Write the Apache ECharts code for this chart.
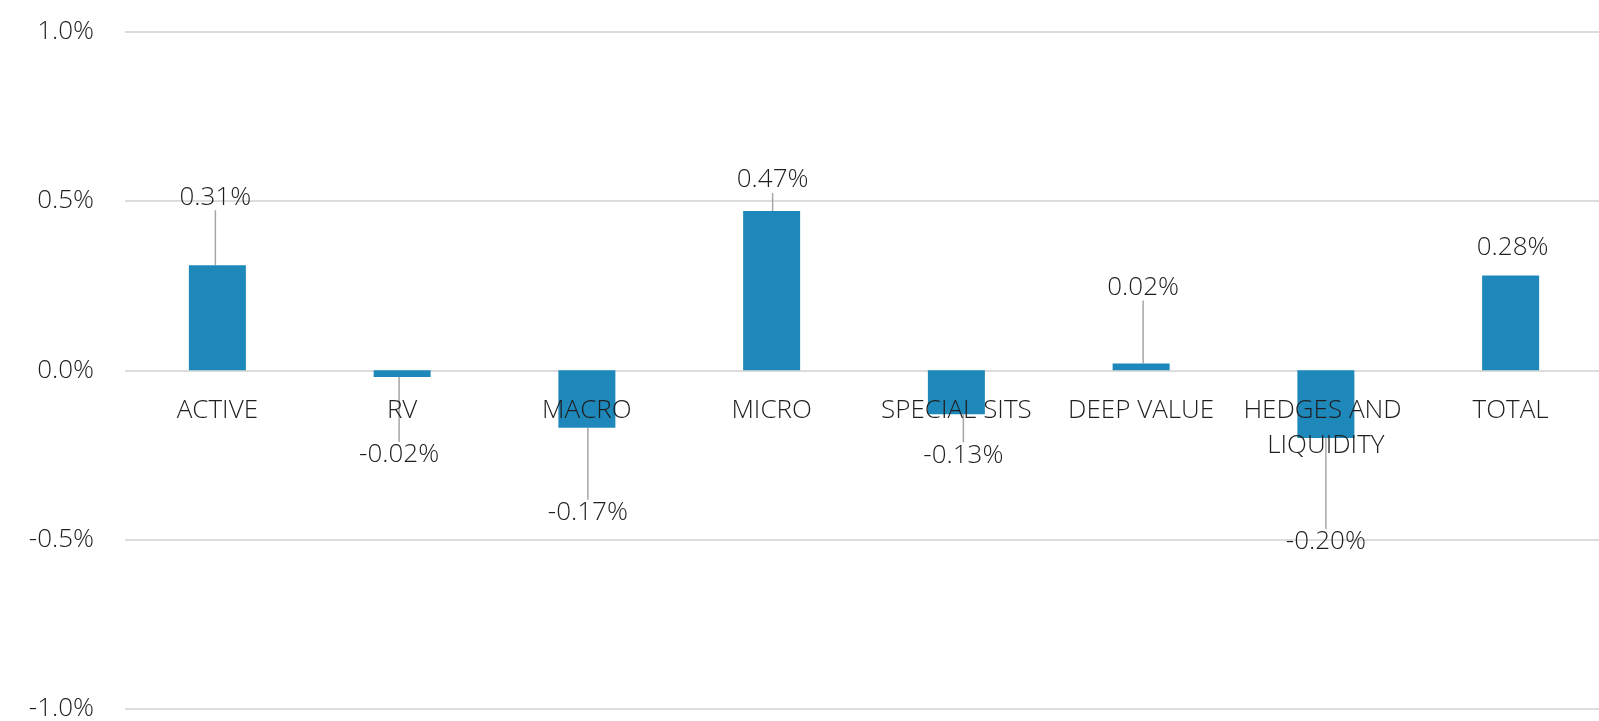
<!DOCTYPE html>
<html>
<head>
<meta charset="utf-8">
<script src="https://cdn.jsdelivr.net/npm/echarts@6/dist/echarts.min.js"></script>
<style>
html,body{margin:0;padding:0;background:#fff;}
#chart{width:1599px;height:721px;}
</style>
</head>
<body>
<div id="chart"></div>
<script>
var categories = ['ACTIVE', 'RV', 'MACRO', 'MICRO', 'SPECIAL SITS', 'DEEP VALUE', 'HEDGES AND LIQUIDITY', 'TOTAL'];
var values = [0.31, -0.02, -0.17, 0.47, -0.13, 0.02, -0.20, 0.28];
var yTicks = { min: -1.0, max: 1.0, interval: 0.5 };

// label placement (relative shifts of the data labels, as moved in the original)
var labelShift = [[-2, -50], [-3, 60], [1, 67], [1, -13], [7, 23], [2, -58], [0, 86], [2, -10]];
var leaderLine = [true, true, true, true, true, true, true, false];

var FONT = "'Open Sans', 'Segoe UI', sans-serif";
var TXT = '#1f1f1f';

var chart = echarts.init(document.getElementById('chart'));
var seriesData = values.map(function (v, i) {
  return {
    value: v,
    label: { position: v >= 0 ? 'top' : 'bottom' },
    labelLine: { show: leaderLine[i] }
  };
});

chart.setOption({
  animation: false,
  grid: { left: 125, right: -4, top: 31.5, bottom: 12, containLabel: false, outerBoundsMode: 'none' },
  xAxis: {
    type: 'category',
    data: categories,
    z: 10,
    axisLine: { show: false, onZero: false },
    axisTick: { show: false },
    axisLabel: {
      interval: 0,
      color: TXT,
      fontFamily: FONT,
      fontWeight: 300,
      fontSize: 26,
      lineHeight: 35,
      margin: -316,
      width: 178,
      overflow: 'break'
    }
  },
  yAxis: {
    type: 'value',
    min: yTicks.min,
    max: yTicks.max,
    interval: yTicks.interval,
    axisLine: { show: false },
    axisTick: { show: false },
    splitLine: { lineStyle: { color: '#dcdcdc', width: 2 } },
    axisLabel: {
      color: TXT,
      fontFamily: FONT,
      fontWeight: 300,
      fontSize: 26,
      margin: 31,
      formatter: function (v) { return v.toFixed(1) + '%'; }
    }
  },
  series: [{
    type: 'bar',
    data: seriesData,
    barWidth: 57,
    itemStyle: { color: '#1f88ba' },
    label: {
      show: true,
      color: TXT,
      fontFamily: FONT,
      fontWeight: 300,
      fontSize: 26,
      distance: 5,
      formatter: function (p) { return p.value.toFixed(2) + '%'; }
    },
    labelLine: {
      show: true,
      lineStyle: { color: '#a6a6a6', width: 1.5 }
    },
    labelLayout: function (params) {
      var s = labelShift[params.dataIndex];
      return { dx: s[0], dy: s[1] };
    }
  }]
});
</script>
</body>
</html>
